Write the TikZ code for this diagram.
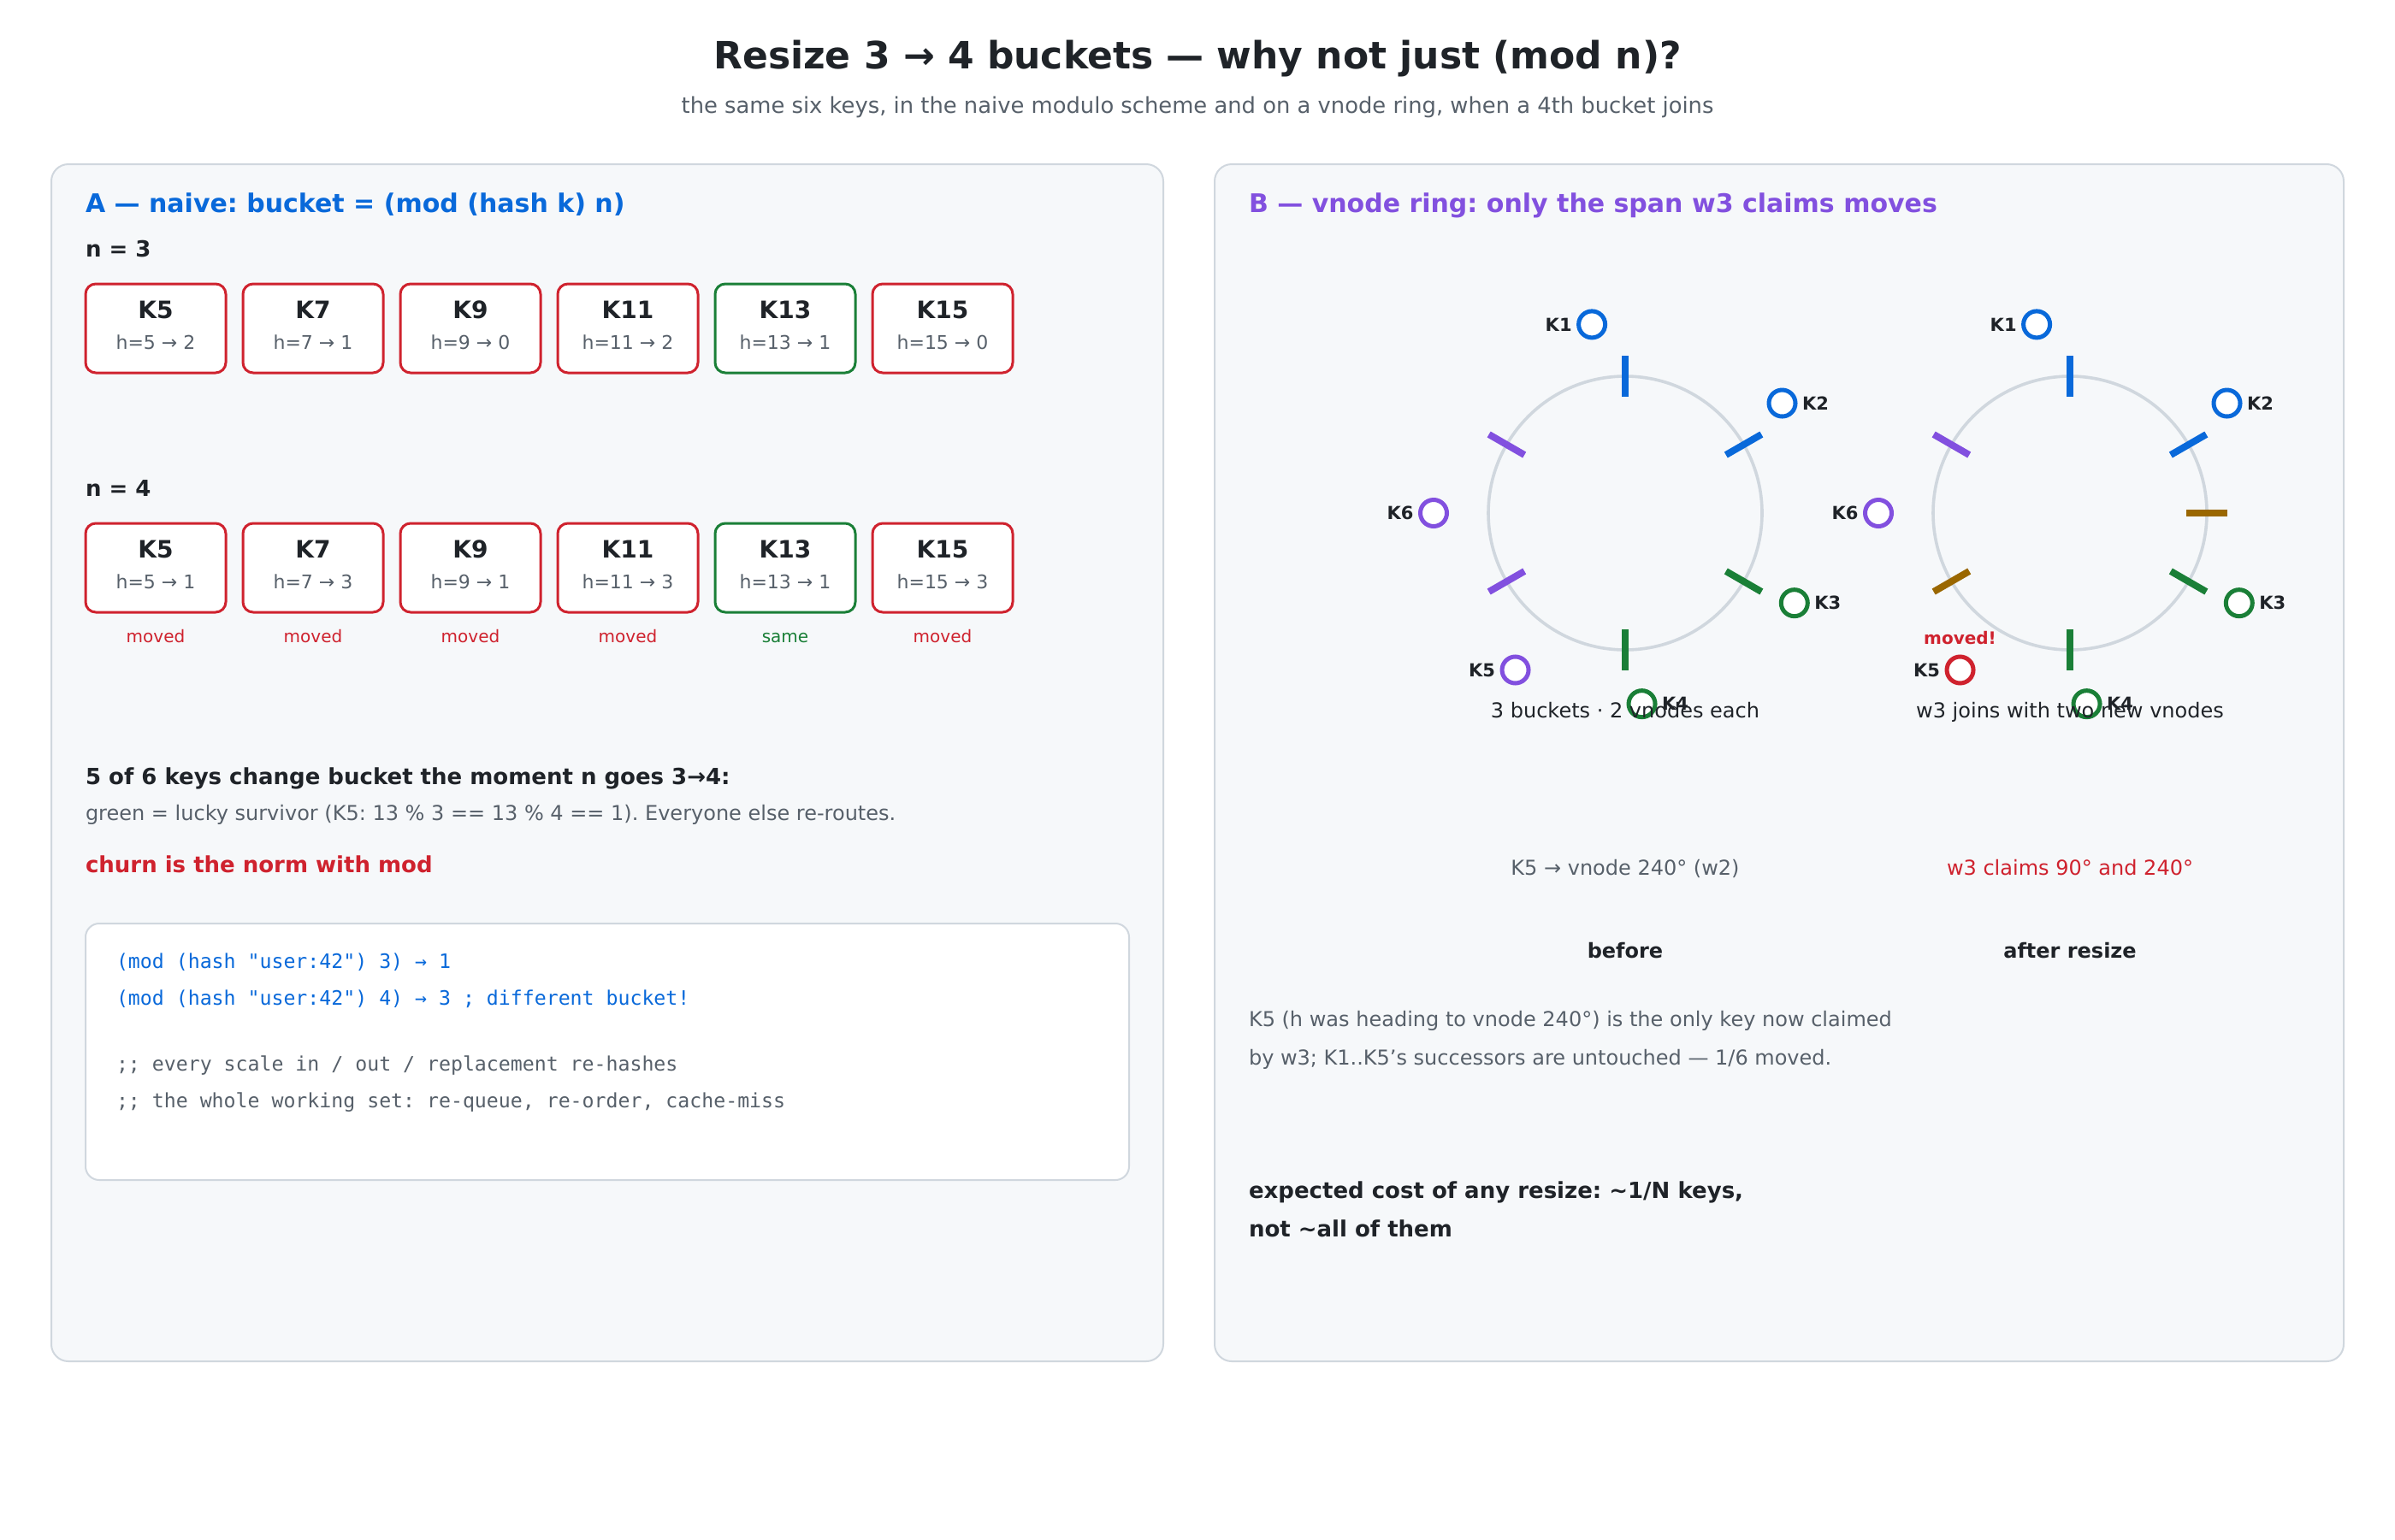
\documentclass[tikz,border=0pt]{standalone}
\usepackage{fontspec}
\setmainfont{DejaVu Sans}
\setmonofont{DejaVu Sans Mono}
\usetikzlibrary{positioning}
\frenchspacing

\definecolor{ink}{HTML}{1F2328}
\definecolor{muted}{HTML}{57606A}
\definecolor{panelfill}{HTML}{F6F8FA}
\definecolor{panelrule}{HTML}{D0D7DE}
\definecolor{keyblue}{HTML}{0969DA}
\definecolor{keypurple}{HTML}{8250DF}
\definecolor{keygreen}{HTML}{1A7F37}
\definecolor{keyred}{HTML}{CF222E}
\definecolor{keybrown}{HTML}{9A6700}

\newcommand{\pxfont}[1]{\fontsize{#1}{#1}\selectfont}

\begin{document}
\begin{tikzpicture}[
    x=1pt, y=-1pt,
    every node/.style={inner sep=0pt, outer sep=0pt},
    panel/.style={draw=panelrule, fill=panelfill, line width=1pt,
        rounded corners=10pt},
    codepanel/.style={draw=panelrule, fill=white, line width=1pt,
        rounded corners=8pt},
    heading/.style={anchor=base west, font=\pxfont{15}\bfseries},
    rowlabel/.style={anchor=base west, font=\pxfont{13}\bfseries, text=ink},
    keybox/.style={rectangle, minimum width=82pt, minimum height=52pt,
        rounded corners=6pt, line width=1.5pt, fill=white},
    keyname/.style={anchor=base, font=\pxfont{14}\bfseries, text=ink},
    keyhash/.style={anchor=base, font=\pxfont{11}, text=muted},
    verdict/.style={anchor=base, font=\pxfont{10}},
    note/.style={anchor=base west, font=\pxfont{12}, text=muted},
    strong/.style={anchor=base west, font=\pxfont{13}\bfseries, text=ink},
    codeline/.style={anchor=base west, font=\pxfont{11.6}\ttfamily},
    ringline/.style={draw=panelrule, line width=1.8pt},
    vtick/.style={line width=4pt},
    keydot/.style={circle, draw, line width=2.5pt, fill=white,
        minimum size=15.5pt},
    keytag/.style={font=\pxfont{10.5}\bfseries, text=ink},
    caption/.style={anchor=base, font=\pxfont{12}}
]
\fill[white] (0,0) rectangle (1400,900);
\useasboundingbox (0,0) rectangle (1400,900);

\node (title) [anchor=base, font=\pxfont{22}\bfseries, text=ink] at (700,40)
    {Resize 3 → 4 buckets — why not just (mod n)?};
\node (subtitle) [anchor=base, font=\pxfont{12.9}, text=muted] at (700,66)
    {the same six keys, in the naive modulo scheme and on a vnode ring, when a 4th bucket joins};

\draw[panel] (30,96) rectangle (680,796);
\draw[panel] (710,96) rectangle (1370,796);

% A: naive modulo
\node (headA) [heading, text=keyblue] at (50,124)
    {A — naive: bucket = (mod (hash k) n)};
\node (nthree) [rowlabel] at (50,150) {n = 3};
\node (nfour) [rowlabel] at (50,290) {n = 4};

\foreach \h/\m/\n/\tone/\says [count=\i from 0] in
    {5/2/1/keyred/moved, 7/1/3/keyred/moved, 9/0/1/keyred/moved,
     11/2/3/keyred/moved, 13/1/1/keygreen/same, 15/0/3/keyred/moved} {
    \node (three\h) [keybox, draw=\tone] at ({91+92*\i},192) {};
    \node (three\h-name) [keyname] at ({91+92*\i},186) {K\h};
    \node (three\h-hash) [keyhash] at ({91+92*\i},204) {h=\h\ → \m};
    \node (four\h) [keybox, draw=\tone] at ({91+92*\i},332) {};
    \node (four\h-name) [keyname] at ({91+92*\i},326) {K\h};
    \node (four\h-hash) [keyhash] at ({91+92*\i},344) {h=\h\ → \n};
    \node (four\h-says) [verdict, text=\tone] at ({91+92*\i},375.5) {\says};
}

\node (churnhead) [strong] at (50,458.5)
    {5 of 6 keys change bucket the moment n goes 3→4:};
\node (churnnote) [note] at (50,479.5)
    {green = lucky survivor (K5: 13 \% 3 == 13 \% 4 == 1). Everyone else re-routes.};
\node (churnflag) [strong, text=keyred] at (50,510) {churn is the norm with mod};

\draw[codepanel] (50,540) rectangle (660,690);
\node (code1) [codeline, text=keyblue] at (68,566) {(mod (hash "user:42") 3) → 1};
\node (code2) [codeline, text=keyblue] at (68,587.5)
    {(mod (hash "user:42") 4) → 3 ; different bucket!};
\node (code3) [codeline, text=muted] at (68,626)
    {;; every scale in / out / replacement re-hashes};
\node (code4) [codeline, text=muted] at (68,647.5)
    {;; the whole working set: re-queue, re-order, cache-miss};

% B: vnode ring
\node (headB) [heading, text=keypurple] at (730,124)
    {B — vnode ring: only the span w3 claims moves};

\begin{scope}[shift={(950,300)}]
    \draw[ringline] (0,0) circle[radius=80];
    \foreach \a/\tone in {-90/keyblue, -30/keyblue, 30/keygreen, 90/keygreen,
        150/keypurple, 210/keypurple}
        \draw[vtick, draw=\tone] (\a:68) -- (\a:92);
    \foreach \key/\a/\tone/\side/\opp/\gap in
        {K1/260/keyblue/west/east/-4, K2/-35/keyblue/east/west/4,
         K3/28/keygreen/east/west/4, K4/85/keygreen/east/west/4,
         K5/125/keypurple/west/east/-4, K6/180/keypurple/west/east/-4} {
        \node (pre\key) [keydot, draw=\tone] at (\a:112) {};
        \node (pre\key-tag) [keytag, anchor=\opp] at ([xshift=\gap pt]pre\key.\side) {\key};
    }
\end{scope}

\begin{scope}[shift={(1210,300)}]
    \draw[ringline] (0,0) circle[radius=80];
    \foreach \a/\tone in {-90/keyblue, -30/keyblue, 0/keybrown, 30/keygreen,
        90/keygreen, 150/keybrown, 210/keypurple}
        \draw[vtick, draw=\tone] (\a:68) -- (\a:92);
    \foreach \key/\a/\tone/\side/\opp/\gap in
        {K1/260/keyblue/west/east/-4, K2/-35/keyblue/east/west/4,
         K3/28/keygreen/east/west/4, K4/85/keygreen/east/west/4,
         K5/125/keyred/west/east/-4, K6/180/keypurple/west/east/-4} {
        \node (post\key) [keydot, draw=\tone] at (\a:112) {};
        \node (post\key-tag) [keytag, anchor=\opp] at ([xshift=\gap pt]post\key.\side) {\key};
    }
    \node (postK5-flag) [above=7pt of postK5, font=\pxfont{10}\bfseries, text=keyred] {moved!};
\end{scope}

\node (precap) [caption, text=ink] at (950,419.5) {3 buckets · 2 vnodes each};
\node (postcap) [caption, text=ink] at (1210,419.5) {w3 joins with two new vnodes};

\node (prewhy) [caption, text=muted] at (950,511.5) {K5 → vnode 240° (w2)};
\node (postwhy) [caption, text=keyred] at (1210,511.5) {w3 claims 90° and 240°};
\node (prename) [caption, font=\pxfont{12}\bfseries, text=ink] at (950,560) {before};
\node (postname) [caption, font=\pxfont{12}\bfseries, text=ink] at (1210,560) {after resize};

\node (ringnote1) [note] at (730,600)
    {K5 (h was heading to vnode 240°) is the only key now claimed};
\node (ringnote2) [note] at (730,622.5)
    {by w3; K1..K5’s successors are untouched — 1/6 moved.};
\node (costline1) [strong] at (730,700.5)
    {expected cost of any resize: \textasciitilde1/N keys,};
\node (costline2) [strong] at (730,723)
    {not \textasciitilde all of them};
\end{tikzpicture}
\end{document}
